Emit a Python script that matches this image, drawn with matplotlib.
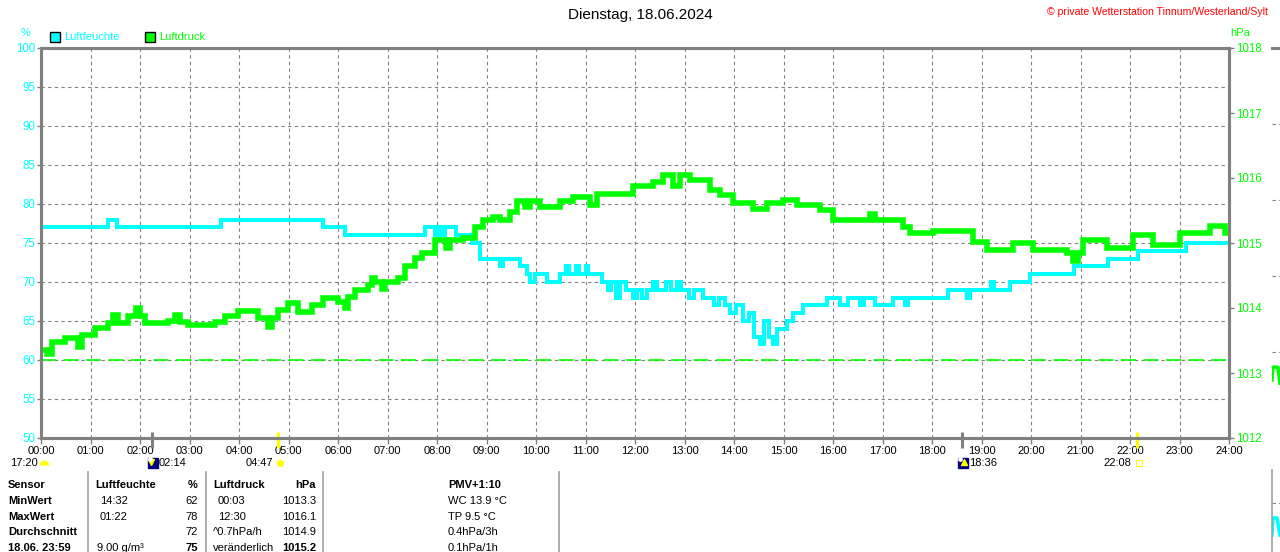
import matplotlib
matplotlib.use("Agg")
import matplotlib.pyplot as plt
import matplotlib.transforms as mtransforms
import matplotlib.path as mpath
from matplotlib.patches import Rectangle
import numpy as np

plt.rcParams['font.family'] = ['Liberation Sans', 'DejaVu Sans']

W, H = 1280, 552
CYAN = '#00ffff'
GREEN = '#00ff00'
GRAY = '#808080'
YELLOW = '#ffff00'
NAVY = '#000080'

TITLE = 'Dienstag, 18.06.2024'
COPYRIGHT = '© private Wetterstation Tinnum/Westerland/Sylt'
HOURS = list(range(25))
HOUR_LABELS = ['%02d:00' % h for h in HOURS]
HUM_TICKS = list(range(50, 101, 5))
PRES_TICKS = list(range(1012, 1019))

# Luftfeuchte in %, Zeitpunkte der Wertwechsel in Stunden
hum_t = [0.00, 1.35, 1.54, 3.64, 5.70, 6.14, 7.76, 7.95, 8.02, 8.08, 8.16, 8.38, 8.71,
         8.87, 9.27, 9.33, 9.68, 9.82, 9.88, 9.98, 10.22, 10.48, 10.60, 10.66, 10.80,
         10.86, 11.00, 11.06, 11.33, 11.45, 11.52, 11.62, 11.70, 11.82, 11.96, 12.05,
         12.15, 12.25, 12.36, 12.45, 12.62, 12.72, 12.85, 12.92, 13.10, 13.20, 13.37,
         13.60, 13.70, 13.82, 13.92, 14.05, 14.18, 14.30, 14.40, 14.53, 14.60, 14.70,
         14.78, 14.87, 15.07, 15.20, 15.39, 15.88, 16.15, 16.30, 16.55, 16.62, 16.85,
         17.21, 17.45, 17.52, 18.32, 18.70, 18.76, 19.20, 19.25, 19.58, 19.98, 20.87,
         21.56, 22.16, 23.13]
hum_v = [77, 78, 77, 78, 77, 76, 77, 76, 77, 76, 77, 76, 75,
         73, 72, 73, 72, 71, 70, 71, 70, 71, 72, 71, 72,
         71, 72, 71, 70, 69, 70, 68, 70, 69, 68, 69,
         68, 69, 70, 69, 70, 69, 70, 69, 68, 69, 68,
         67, 68, 67, 66, 67, 65, 66, 63, 62, 65, 63,
         62, 64, 65, 66, 67, 68, 67, 68, 67, 68, 67,
         68, 67, 68, 69, 68, 69, 70, 69, 70, 71, 72,
         73, 74, 75]

# Luftdruck in hPa
pres_t = [0.00, 0.12, 0.22, 0.48, 0.75, 0.83, 1.09, 1.35, 1.45, 1.56, 1.76, 1.92, 2.00,
          2.10, 2.57, 2.71, 2.81, 2.97, 3.52, 3.72, 3.98, 4.38, 4.59, 4.67, 4.79, 4.99,
          5.19, 5.47, 5.70, 6.00, 6.14, 6.20, 6.34, 6.61, 6.69, 6.75, 6.89, 6.95, 7.21,
          7.35, 7.56, 7.70, 7.96, 8.18, 8.26, 8.53, 8.77, 8.93, 9.13, 9.27, 9.47, 9.62,
          9.78, 9.88, 10.08, 10.48, 10.75, 11.09, 11.23, 11.96, 12.36, 12.57, 12.77,
          12.91, 13.11, 13.52, 13.72, 13.98, 14.38, 14.67, 14.99, 15.27, 15.74, 16.00,
          16.75, 16.85, 17.41, 17.56, 18.02, 18.83, 19.11, 19.37, 19.64, 20.04, 20.73,
          20.85, 20.95, 21.05, 21.54, 22.06, 22.46, 23.01, 23.62, 23.92]
pres_v = [1013.35, 1013.30, 1013.48, 1013.54, 1013.40, 1013.58, 1013.69, 1013.77, 1013.89,
          1013.77, 1013.87, 1014.00, 1013.87, 1013.77, 1013.80, 1013.90, 1013.78, 1013.74,
          1013.78, 1013.87, 1013.95, 1013.84, 1013.71, 1013.84, 1013.97, 1014.07, 1013.94,
          1014.05, 1014.15, 1014.10, 1014.00, 1014.17, 1014.28, 1014.35, 1014.46, 1014.40,
          1014.30, 1014.40, 1014.46, 1014.64, 1014.77, 1014.85, 1015.05, 1014.92, 1015.05,
          1015.08, 1015.25, 1015.35, 1015.40, 1015.35, 1015.48, 1015.64, 1015.55, 1015.64,
          1015.56, 1015.64, 1015.71, 1015.58, 1015.76, 1015.87, 1015.94, 1016.05, 1015.87,
          1016.05, 1015.97, 1015.82, 1015.74, 1015.61, 1015.52, 1015.61, 1015.66, 1015.58,
          1015.51, 1015.35, 1015.45, 1015.35, 1015.25, 1015.15, 1015.18, 1015.02, 1014.89,
          1014.90, 1015.00, 1014.90, 1014.84, 1014.72, 1014.84, 1015.05, 1014.92, 1015.12,
          1014.97, 1015.15, 1015.26, 1015.15]
PRES_REF = 1013.2

# Sonne / Mond: Zeit, Art
ev_time = ['02:14', '04:47', '18:36', '22:08']
ev_kind = ['moonset', 'sunrise', 'moonrise', 'sunset']
prev_label = '17:20'

# Tabelle unter dem Diagramm
col_sensor = ['Sensor', 'MinWert', 'MaxWert', 'Durchschnitt', '18.06. 23:59']
col_hum_time = ['Luftfeuchte', '14:32', '01:22', '', '9.00 g/m³']
col_hum_val = ['%', '62', '78', '72', '75']
col_pres_time = ['Luftdruck', '00:03', '12:30', '^0.7hPa/h', 'veränderlich']
col_pres_val = ['hPa', '1013.3', '1016.1', '1014.9', '1015.2']
col_extra = ['PMV+1:10', 'WC 13.9 °C', 'TP 9.5 °C', '0.4hPa/3h', '0.1hPa/1h']

# Anschnitt des naechsten Diagramms rechts
next_p_t = [0.0, 0.02, 0.12, 0.16]
next_p_v = [0.63, 0.80, 0.80, 0.59]
next_h_t = [0.0, 0.02, 0.10, 0.16]
next_h_v = [8.03, 8.55, 8.55, 8.03]


def fx(px):
    return px / W


def fy(py):
    return 1 - py / H


fig = plt.figure(figsize=(W / 100, H / 100), dpi=100)
fig.patch.set_facecolor('white')

ax = fig.add_axes([fx(41), fy(438), 1188 / W, 390 / H])
ax2 = ax.twinx()

ax.set_xlim(0, 24)
ax.set_ylim(50, 100)
ax2.set_ylim(1012, 1018)

ax.set_xticks(HOURS)
ax.set_xticklabels(HOUR_LABELS)
ax.set_yticks(HUM_TICKS)
ax.set_yticklabels([str(v) for v in HUM_TICKS])
ax2.set_yticks(PRES_TICKS)
ax2.set_yticklabels([str(v) for v in PRES_TICKS])

ax.grid(True, color=GRAY, linestyle=(0, (3, 3)), linewidth=0.8)
ax.set_axisbelow(True)

for a in (ax, ax2):
    for s in a.spines.values():
        s.set_color(GRAY)
        s.set_linewidth(2.2)

ax.tick_params(axis='x', color=GRAY, length=4, width=1, pad=2, labelsize=8, labelcolor='black')
ax.tick_params(axis='y', color=GRAY, length=3, width=1, pad=1, labelsize=8.3, labelcolor=CYAN)
ax2.tick_params(axis='y', color=GRAY, length=3.5, width=1, pad=1.5, labelsize=8.3, labelcolor=GREEN)

ax.step(np.append(hum_t, 24), np.append(hum_v, hum_v[-1]), where='post',
        color=CYAN, linewidth=2.9, solid_joinstyle='miter')
ax2.axhline(PRES_REF, color=GREEN, linewidth=1.2, linestyle=(0, (9, 4.5)))
ax2.step(np.append(pres_t, 24), np.append(pres_v, pres_v[-1]), where='post',
         color=GREEN, linewidth=4.0, solid_joinstyle='miter')

# Kopfzeile
fig.text(0.5, fy(15), TITLE, ha='center', va='center', fontsize=11)
fig.text(fx(1268), fy(12), COPYRIGHT, ha='right', va='center', fontsize=7.6, color='red')
fig.text(fx(26), fy(33), '%', ha='center', va='center', fontsize=8, color=CYAN)
fig.text(fx(1240), fy(33), 'hPa', ha='center', va='center', fontsize=8, color=GREEN)
for x0, col, lab in [(50, CYAN, 'Luftfeuchte'), (145, GREEN, 'Luftdruck')]:
    fig.patches.append(Rectangle((fx(x0), fy(42)), 10 / W, 10 / H, transform=fig.transFigure,
                                 facecolor=col, edgecolor='black', linewidth=1))
    fig.text(fx(x0 + 14), fy(37), lab, ha='left', va='center', fontsize=8, color=col)

# Sonne / Mond Marken
trans_x = mtransforms.blended_transform_factory(ax.transData, fig.transFigure)
half_disc = mpath.Path.wedge(0, 180)
for tstr, kind in zip(ev_time, ev_kind):
    hh, mm = tstr.split(':')
    t = int(hh) + int(mm) / 60
    tick_col = YELLOW if kind.startswith('sun') else GRAY
    ax.plot([t, t], [fy(432), fy(448)], transform=trans_x, color=tick_col,
            linewidth=2.2, clip_on=False, solid_capstyle='butt')
    if kind.startswith('moon'):
        tr = mtransforms.offset_copy(trans_x, fig=fig, x=1, units='dots')
        ax.plot([t], [fy(463)], transform=tr, marker='s', markersize=7.5, color=NAVY,
                clip_on=False)
        arrow = 'v' if kind == 'moonset' else '^'
        ax.plot([t], [fy(462)], transform=mtransforms.offset_copy(trans_x, fig=fig, x=2 if kind == 'moonrise' else -1, units='dots'),
                marker=arrow, markersize=4, color=YELLOW, clip_on=False)
        ax.plot([t], [fy(459)], transform=mtransforms.offset_copy(trans_x, fig=fig, x=-2, units='dots'),
                marker='o', markersize=2.5, color='white', clip_on=False)
        ax.text(t, fy(463), tstr, transform=mtransforms.offset_copy(trans_x, fig=fig, x=7, units='dots'),
                ha='left', va='center', fontsize=8)
    else:
        tr = mtransforms.offset_copy(trans_x, fig=fig, x=2, units='dots')
        if kind == 'sunrise':
            ax.plot([t], [fy(463)], transform=tr, marker='*', markersize=9, color='#ffff99',
                    markeredgewidth=0, clip_on=False)
            ax.plot([t], [fy(463)], transform=tr, marker='o', markersize=5, color=YELLOW,
                    markeredgewidth=0, clip_on=False)
        else:
            ax.plot([t], [fy(463)], transform=tr, marker='s', markersize=4.5,
                    markerfacecolor='none', markeredgecolor=YELLOW, markeredgewidth=0.8, clip_on=False)
        ax.text(t, fy(463), tstr, transform=mtransforms.offset_copy(trans_x, fig=fig, x=-5, units='dots'),
                ha='right', va='center', fontsize=8)

ax.plot([0], [fy(465)], transform=mtransforms.offset_copy(trans_x, fig=fig, x=3, units='dots'),
        marker=half_disc, markersize=7, color=YELLOW, markeredgewidth=0, clip_on=False)
ax.text(0, fy(463), prev_label, transform=mtransforms.offset_copy(trans_x, fig=fig, x=-3, units='dots'),
        ha='right', va='center', fontsize=8)

# Tabelle
row_y = [485, 501, 517, 532, 548]
for xl in [88, 206, 323, 559]:
    fig.add_artist(plt.Line2D([fx(xl), fx(xl)], [fy(472), 0], transform=fig.transFigure,
                              color='#a0a0a0', linewidth=1.2))


def put(x, y, s, ha='left', bold=False):
    fig.text(fx(x), fy(y), s, ha=ha, va='center', fontsize=8,
             fontweight='bold' if bold else 'normal')


for i, y in enumerate(row_y):
    put(8, y, col_sensor[i], bold=True)
    put(95 if i == 0 else (97 if i == 4 else 100), y, col_hum_time[i], bold=(i == 0))
    put(198, y, col_hum_val[i], ha='right', bold=(i in (0, 4)))
    put(213 if i in (0, 3, 4) else 218, y, col_pres_time[i], bold=(i == 0))
    put(316, y, col_pres_val[i], ha='right', bold=(i in (0, 4)))
    put(448, y, col_extra[i], bold=(i == 0))

# Anschnitt naechstes Diagramm
axn = fig.add_axes([fx(1272), fy(428), 1188 / W, 380 / H])
axn.set_xlim(0, 24)
axn.set_ylim(0, 5)
axn.set_yticks([0, 1, 2, 3, 4])
axn.set_xticks([])
axn.tick_params(axis='y', length=0, labelleft=False)
axn.grid(True, axis='y', color=GRAY, linestyle=(0, (3, 3)), linewidth=0.8)
for k, s in axn.spines.items():
    s.set_visible(k == 'top')
    s.set_color(GRAY)
    s.set_linewidth(2.2)
axn.patch.set_alpha(0)
axn.plot(next_p_t, next_p_v, color=GREEN, linewidth=2.5)

axh = fig.add_axes([fx(1272), fy(470 + 330), 1188 / W, 330 / H])
axh.set_xlim(0, 24)
axh.set_ylim(0, 10)
axh.set_yticks([9])
axh.set_xticks([])
axh.tick_params(axis='y', length=0, labelleft=False)
axh.grid(True, axis='y', color=GRAY, linestyle=(0, (3, 3)), linewidth=0.8)
for k, s in axh.spines.items():
    s.set_visible(k == 'left')
    s.set_color('#a0a0a0')
    s.set_linewidth(1.2)
axh.patch.set_alpha(0)
axh.plot(next_h_t, next_h_v, color=CYAN, linewidth=2.5)

fig.savefig('out.png', dpi=100)
